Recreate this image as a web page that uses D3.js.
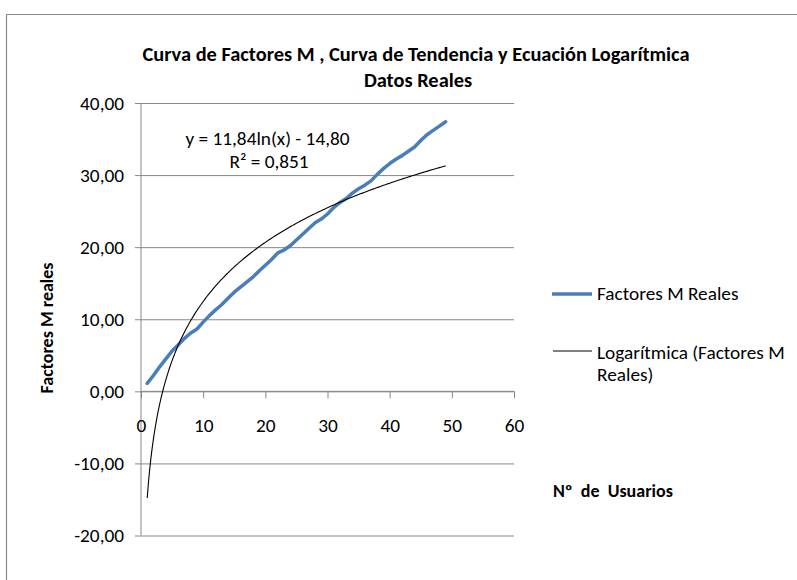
<!DOCTYPE html>
<html>
<head>
<meta charset="utf-8">
<script src="https://cdn.jsdelivr.net/npm/d3@7/dist/d3.min.js"></script>
<style>
  body { margin: 0; background: #ffffff; }
  svg { display: block; }
  text { font-family: Carlito, Calibri, Lato, "Open Sans", sans-serif; fill: #000; }
</style>
</head>
<body>
<svg id="chart" width="797" height="580"></svg>
<script>
// Number of users (x) and observed M factors (y)
const usuarios = [1,2,3,4,5,6,7,8,9,10,11,12,13,14,15,16,17,18,19,20,21,22,23,24,25,
                  26,27,28,29,30,31,32,33,34,35,36,37,38,39,40,41,42,43,44,45,46,47,48,49];
const factoresM = [1.1,2.2,3.4,4.5,5.6,6.45,7.35,8.1,8.65,9.6,10.5,11.3,12.05,12.9,13.75,
                   14.45,15.15,15.85,16.7,17.5,18.3,19.2,19.6,20.2,21.0,21.8,22.6,23.4,23.9,
                   24.6,25.5,26.2,26.75,27.5,28.1,28.6,29.2,30.1,30.9,31.6,32.2,32.7,33.3,
                   33.9,34.8,35.6,36.2,36.8,37.4];

// Logarithmic trend y = a·ln(x) + b, with the printed coefficients
const trendA = 11.84;
const trendB = -14.80;
const trendR2 = 0.851;

// Axis ticks
const xTicks = [0,10,20,30,40,50,60];
const yTicks = [-20,-10,0,10,20,30,40];

const titleLines = ["Curva de Factores M , Curva de Tendencia y Ecuación Logarítmica", "Datos Reales"];
const seriesNames = ["Factores M Reales", "Logarítmica (Factores M", "Reales)"];
const xTitle = "Nº  de  Usuarios";
const yTitle = "Factores M reales";

const svg = d3.select("#chart");
const plot = { left: 141, right: 514, top: 103, bottom: 535.5 };

const x = d3.scaleLinear().domain([0, 60]).range([plot.left, plot.right]);
const y = d3.scaleLinear().domain([-20, 40]).range([plot.bottom, plot.top]);

const esLocale = d3.formatLocale({ decimal: ",", thousands: ".", grouping: [3], currency: ["", " €"], minus: "-" });
const fmt2 = esLocale.format(".2f");
const fmt3 = esLocale.format(".3f");

const gridColor = "#878787";
const fsBody = 19.3;

// Chart frame
svg.append("path")
  .attr("d", "M6.5,580 V14.5 H797")
  .attr("fill", "none")
  .attr("stroke", "#8a8a8a")
  .attr("stroke-width", 1.2);

// Horizontal gridlines
svg.append("g")
  .attr("transform", `translate(${plot.left},0)`)
  .call(d3.axisLeft(y).tickValues(yTicks).tickSize(-(plot.right - plot.left)).tickFormat(""))
  .call(g => g.select(".domain").remove())
  .call(g => g.selectAll(".tick line").attr("stroke", gridColor).attr("stroke-width", 1));

// Vertical axis with labels
svg.append("g")
  .attr("transform", `translate(${plot.left},0)`)
  .call(d3.axisLeft(y).tickValues(yTicks).tickSize(6).tickPadding(11).tickFormat(fmt2))
  .call(g => g.select(".domain").attr("stroke", gridColor).attr("d", `M0,${plot.top}V${plot.bottom}`))
  .call(g => g.selectAll(".tick line").attr("stroke", gridColor))
  .call(g => g.selectAll(".tick text").attr("font-size", fsBody).attr("font-family", null));

// Horizontal axis crossing at zero
svg.append("g")
  .attr("transform", `translate(0,${y(0)})`)
  .call(d3.axisBottom(x).tickValues(xTicks).tickSize(7).tickPadding(20).tickFormat(d3.format("d")))
  .call(g => g.select(".domain").attr("stroke", gridColor).attr("d", `M${plot.left},0H${plot.right}`))
  .call(g => g.selectAll(".tick line").attr("stroke", gridColor))
  .call(g => g.selectAll(".tick text").attr("font-size", fsBody).attr("font-family", null));

// Observed series
const pts = usuarios.map((u, i) => [u, factoresM[i]]);
svg.append("path")
  .datum(pts)
  .attr("fill", "none")
  .attr("stroke", "#4a7ebb")
  .attr("stroke-width", 3.5)
  .attr("stroke-linejoin", "round")
  .attr("stroke-linecap", "round")
  .attr("d", d3.line().x(d => x(d[0])).y(d => y(d[1])));

// Trend curve sampled over the data range
const xMin = d3.min(usuarios), xMax = d3.max(usuarios);
const trendPts = [];
for (let u = xMin; u <= xMax + 1e-9; u += 0.2) trendPts.push([u, trendA * Math.log(u) + trendB]);
svg.append("path")
  .datum(trendPts)
  .attr("fill", "none")
  .attr("stroke", "#000")
  .attr("stroke-width", 1.1)
  .attr("d", d3.line().x(d => x(d[0])).y(d => y(d[1])));

// Equation label
const eq = svg.append("g").attr("font-size", fsBody).attr("text-anchor", "middle");
eq.append("text").attr("x", 267.5).attr("y", 145)
  .text(`y = ${fmt2(trendA)}ln(x) - ${fmt2(Math.abs(trendB))}`);
eq.append("text").attr("x", 269).attr("y", 168)
  .text(`R² = ${fmt3(trendR2)}`);

// Title
const title = svg.append("g").attr("text-anchor", "middle").attr("font-weight", "bold").attr("font-size", 20.4);
title.append("text").attr("x", 416).attr("y", 61).text(titleLines[0]);
title.append("text").attr("x", 418).attr("y", 87).text(titleLines[1]);

// Axis titles
svg.append("text")
  .attr("transform", "translate(53,328) rotate(-90)")
  .attr("text-anchor", "middle")
  .attr("font-weight", "bold")
  .attr("font-size", 18)
  .text(yTitle);

svg.append("text")
  .attr("x", 553).attr("y", 497)
  .attr("font-weight", "bold")
  .attr("font-size", 18)
  .style("white-space", "pre")
  .text(xTitle);

// Legend
const legend = svg.append("g").attr("font-size", fsBody);
legend.append("line").attr("x1", 552).attr("x2", 592).attr("y1", 294).attr("y2", 294)
  .attr("stroke", "#4a7ebb").attr("stroke-width", 3.5);
legend.append("text").attr("x", 597).attr("y", 300).text(seriesNames[0]);
legend.append("line").attr("x1", 553).attr("x2", 592).attr("y1", 351).attr("y2", 351)
  .attr("stroke", "#000").attr("stroke-width", 1.1);
legend.append("text").attr("x", 597).attr("y", 359).text(seriesNames[1]);
legend.append("text").attr("x", 597).attr("y", 381).text(seriesNames[2]);
</script>
</body>
</html>
